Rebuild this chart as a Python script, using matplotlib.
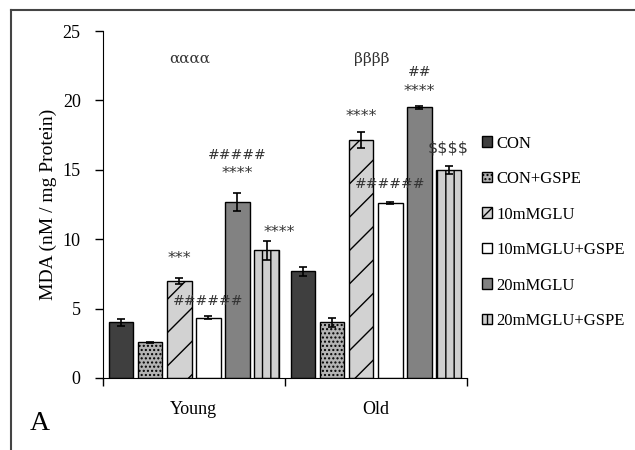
import matplotlib
matplotlib.use("Agg")
import matplotlib.pyplot as plt
import numpy as np
from matplotlib.lines import Line2D

groups = ["Young", "Old"]
series = ["CON", "CON+GSPE", "10mMGLU", "10mMGLU+GSPE", "20mMGLU", "20mMGLU+GSPE"]
values = [
    [4.0, 7.7],
    [2.57, 4.0],
    [7.0, 17.15],
    [4.35, 12.6],
    [12.7, 19.5],
    [9.2, 15.0],
]
errors = [
    [0.25, 0.33],
    [0.05, 0.33],
    [0.22, 0.57],
    [0.1, 0.05],
    [0.65, 0.12],
    [0.7, 0.3],
]
# annotations: (series index, group index, text, offset above bar top in data units)
annotations = [
    (2, 0, "***", 1.4),
    (3, 0, "######", 1.1),
    (4, 0, "****", 1.35),
    (4, 0, "#####", 2.75),
    (5, 0, "****", 0.6),
    (2, 1, "****", 1.15),
    (3, 1, "######", 1.3),
    (4, 1, "****", 1.0),
    (4, 1, "##", 2.45),
    (5, 1, "$$$$", 1.3),
]
group_marks = ["αααα", "ββββ"]

plt.rcParams['font.family'] = ['Liberation Serif', 'DejaVu Serif']
plt.rcParams['hatch.color'] = '#555555'

fig = plt.figure(figsize=(6.35, 4.5), dpi=100)
ax = fig.add_axes([0.162, 0.16, 0.573, 0.771])

faces = ["#3f3f3f", "#b4b4b4", "#d2d2d2", "#ffffff", "#828282", "#cfcfcf"]
hatches = ["", "....", "/", "", "", "||"]
step = 0.16
width = 0.135
x = np.arange(len(groups))
for i, name in enumerate(series):
    pos = x + (i - 2.5) * step
    ax.bar(pos, values[i], width, yerr=errors[i], color=faces[i], edgecolor="black",
           linewidth=1.0, hatch=hatches[i], label=name,
           error_kw=dict(ecolor="black", elinewidth=1.2, capsize=3, capthick=1.2))

xshift = {(5, 0): 0.07}
for si, gi, txt, off in annotations:
    px = x[gi] + (si - 2.5) * step + xshift.get((si, gi), 0.0)
    ax.text(px, values[si][gi] + errors[si][gi] + off, txt, ha="center", va="center",
            fontsize=11.5 if "#" not in txt else 10, family=['DejaVu Sans'],
            color="#333333", parse_math=False)

for gi, t in enumerate(group_marks):
    ax.text(x[gi] - 0.02, 23.0, t, ha="center", va="center",
            fontsize=11, color="#333333", family=['DejaVu Serif'])

ax.set_xlim(-0.5, 1.5)
ax.set_ylim(0, 25)
ax.set_yticks([0, 5, 10, 15, 20, 25])
ax.set_xticks([-0.5, 0.5, 1.5])
ax.set_xticklabels([])
ax.tick_params(axis="both", direction="out", length=6, width=1, labelsize=13)
ax.tick_params(axis="y", pad=10)
for gi, g in enumerate(groups):
    ax.text(x[gi], -2.3, g, ha="center", va="center", fontsize=13)
ax.spines["top"].set_visible(False)
ax.spines["right"].set_visible(False)
ax.set_ylabel("MDA (nM / mg Protein)", fontsize=14, labelpad=4)

ax.legend(loc="center left", bbox_to_anchor=(1.0, 0.42), frameon=False, fontsize=12,
          handlelength=0.6, handleheight=0.6, handletextpad=0.3, labelspacing=1.17)

fig.text(0.063, 0.06, "A", fontsize=20, ha="center", va="center")
fig.add_artist(Line2D([0.018, 0.018], [0.0, 0.978], transform=fig.transFigure,
                      color="#444444", linewidth=1.5))
fig.add_artist(Line2D([0.018, 1.0], [0.978, 0.978], transform=fig.transFigure,
                      color="#444444", linewidth=1.5))

fig.savefig("out.png", dpi=100)
